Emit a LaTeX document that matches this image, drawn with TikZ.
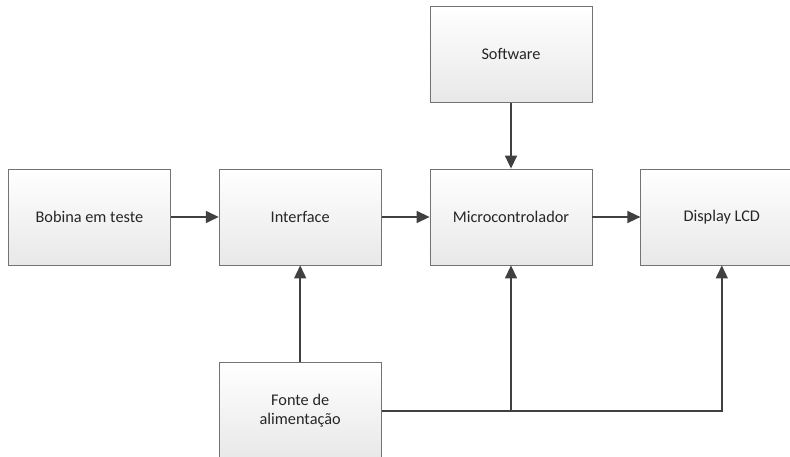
\documentclass[tikz,border=0pt]{standalone}
\usepackage{fontspec}
\setmainfont{Carlito}
\usetikzlibrary{arrows.meta, positioning, shadings}

\begin{document}
\begin{tikzpicture}[
    >={Triangle[length=13pt, width=12pt]},
    block/.style={draw=black!55, line width=0.8pt, minimum width=162pt,
                  minimum height=96pt, top color=white,
                  bottom color=black!9, text=black!85,
                  font=\fontsize{16.3}{19}\selectfont, align=center,
                  inner sep=0pt},
    link/.style={draw=black!75, line width=1.5pt},
    node distance=48pt
  ]
  \useasboundingbox (-511pt,-240pt) rectangle (279pt,217pt);
  \node[block] (micro) at (0,0) {Microcontrolador};
  \node[block, left=of micro] (iface) {Interface};
  \node[block, left=of iface] (bobina) {Bobina em teste};
  \node[block, right=of micro] (lcd) {Display LCD};
  \node[block, above=66pt of micro] (soft) {Software};
  \node[block, below=97pt of iface] (fonte) {Fonte de\\alimentação};
  \coordinate (jct) at (micro.south |- fonte.east);

  \draw[link, ->] (bobina) -- (iface);
  \draw[link, ->] (iface) -- (micro);
  \draw[link, ->] (micro) -- (lcd);
  \draw[link, ->] (soft) -- (micro);
  \draw[link, ->] (fonte) -- (iface);
  \draw[link, ->] (fonte.east) -- (jct) -- (micro.south);
  \draw[link, ->] (jct) -| (lcd.south);
\end{tikzpicture}
\end{document}
